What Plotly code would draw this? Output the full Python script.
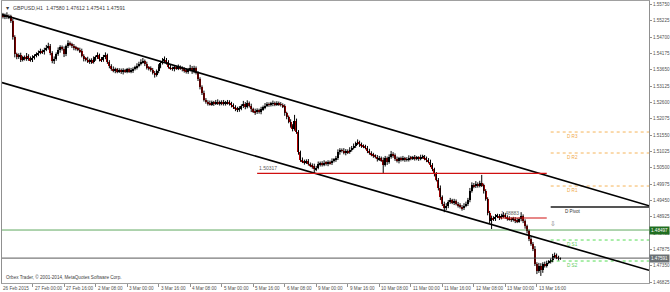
import plotly.graph_objects as go

# ---------------- data ----------------
symbol_header = "\u25bc  GBPUSD,H1  1.47580 1.47612 1.47541 1.47591"
footer_text = "Orbex Trader, \u00a9 2001-2014, MetaQuotes Software Corp."

first_open = 1.5545
closes = [
    1.5540, 1.5536, 1.5541, 1.5534, 1.5537, 1.5522, 1.5470, 1.5415, 1.5405, 1.5412,
    1.5398, 1.5405, 1.5400, 1.5410, 1.5402, 1.5396, 1.5404, 1.5410, 1.5415, 1.5420,
    1.5425, 1.5422, 1.5430, 1.5436, 1.5442, 1.5420, 1.5392, 1.5400, 1.5415, 1.5428,
    1.5438, 1.5432, 1.5415, 1.5440, 1.5450, 1.5447, 1.5440, 1.5436, 1.5433, 1.5430,
    1.5425, 1.5410, 1.5400, 1.5398, 1.5392, 1.5396, 1.5390, 1.5400, 1.5405, 1.5412,
    1.5400, 1.5396, 1.5405, 1.5412, 1.5390, 1.5378, 1.5368, 1.5362, 1.5366, 1.5360,
    1.5364, 1.5358, 1.5362, 1.5360, 1.5366, 1.5360, 1.5363, 1.5368, 1.5372, 1.5378,
    1.5385, 1.5390, 1.5393, 1.5385, 1.5372, 1.5368, 1.5365, 1.5356, 1.5348, 1.5360,
    1.5375, 1.5388, 1.5394, 1.5398, 1.5390, 1.5375, 1.5370, 1.5368, 1.5372, 1.5370,
    1.5374, 1.5370, 1.5368, 1.5362, 1.5358, 1.5365, 1.5372, 1.5360, 1.5370, 1.5355,
    1.5335, 1.5310, 1.5290, 1.5268, 1.5262, 1.5258, 1.5255, 1.5260, 1.5257, 1.5262,
    1.5258, 1.5261, 1.5256, 1.5260, 1.5258, 1.5262, 1.5256, 1.5252, 1.5245, 1.5240,
    1.5236, 1.5240, 1.5248, 1.5255, 1.5246, 1.5258, 1.5250, 1.5238, 1.5232, 1.5228,
    1.5235, 1.5230, 1.5238, 1.5244, 1.5250, 1.5255, 1.5252, 1.5256, 1.5258, 1.5254,
    1.5258, 1.5255, 1.5252, 1.5248, 1.5225, 1.5212, 1.5198, 1.5185, 1.5175, 1.5200,
    1.5165, 1.5100, 1.5075, 1.5070, 1.5068, 1.5072, 1.5062, 1.5058, 1.5055, 1.5045,
    1.5050, 1.5062, 1.5065, 1.5060, 1.5066, 1.5063, 1.5068, 1.5065, 1.5072, 1.5075,
    1.5080, 1.5100, 1.5107, 1.5105, 1.5098, 1.5104, 1.5100, 1.5108, 1.5114, 1.5120,
    1.5128, 1.5132, 1.5125, 1.5120, 1.5118, 1.5115, 1.5105, 1.5098, 1.5092, 1.5088,
    1.5085, 1.5078, 1.5080, 1.5074, 1.5060, 1.5080, 1.5068, 1.5085, 1.5095, 1.5090,
    1.5078, 1.5072, 1.5080, 1.5076, 1.5080, 1.5075, 1.5078, 1.5082, 1.5080, 1.5083,
    1.5079, 1.5082, 1.5080, 1.5084, 1.5086, 1.5080, 1.5076, 1.5070, 1.5060, 1.5045,
    1.5030, 1.5012, 1.4985, 1.4955, 1.4935, 1.4920, 1.4928, 1.4940, 1.4945, 1.4938,
    1.4942, 1.4935, 1.4930, 1.4925, 1.4920, 1.4928, 1.4935, 1.4945, 1.4975, 1.4995,
    1.4990, 1.4998, 1.4992, 1.5000, 1.4994, 1.4975, 1.4950, 1.4905, 1.4880, 1.4888,
    1.4885, 1.4893, 1.4896, 1.4890, 1.4894, 1.4898, 1.4892, 1.4888, 1.4885, 1.4882,
    1.4886, 1.4880, 1.4878, 1.4884, 1.4895, 1.4878, 1.4862, 1.4845, 1.4822, 1.4805,
    1.4790, 1.4740, 1.4718, 1.4735, 1.4720, 1.4740, 1.4735, 1.4745, 1.4748, 1.4752,
    1.4765, 1.4768, 1.4762, 1.4758, 1.47591,
]
# upper / lower wick lengths in pips
wick_up_pips = [
    6, 8, 5, 9, 6, 5, 7, 6, 5, 6, 8, 5, 6, 9, 5, 6, 8, 5, 6, 7,
    8, 5, 6, 9, 10, 6, 5, 8, 6, 9, 6, 5, 8, 6, 10, 6, 5, 8, 6, 5,
    6, 8, 5, 6, 9, 5, 6, 8, 6, 9, 5, 6, 8, 9, 5, 6, 5, 8, 6, 5,
    6, 5, 8, 6, 5, 6, 8, 5, 6, 8, 6, 9, 10, 5, 6, 5, 8, 6, 5, 6,
    8, 6, 9, 10, 5, 6, 8, 5, 6, 6, 8, 5, 6, 5, 8, 6, 9, 5, 8, 6,
    5, 6, 5, 8, 6, 5, 8, 6, 5, 6, 8, 5, 6, 8, 5, 6, 5, 6, 5, 6,
    6, 8, 6, 10, 6, 9, 5, 6, 5, 8, 6, 5, 8, 6, 8, 6, 5, 6, 8, 5,
    6, 5, 6, 5, 6, 5, 6, 8, 5, 20, 8, 6, 5, 8, 6, 5, 6, 5, 6, 8,
    6, 8, 5, 6, 8, 5, 6, 5, 8, 6, 8, 9, 6, 5, 8, 6, 5, 8, 6, 8,
    6, 9, 5, 6, 5, 6, 5, 6, 5, 6, 5, 6, 8, 6, 9, 8, 6, 8, 9, 5,
    6, 8, 5, 6, 8, 5, 6, 8, 6, 5, 8, 6, 5, 8, 6, 5, 6, 5, 6, 5,
    5, 6, 5, 8, 6, 6, 8, 6, 8, 5, 8, 6, 5, 6, 5, 8, 6, 8, 10, 8,
    6, 9, 5, 8, 27, 5, 6, 5, 6, 8, 6, 8, 6, 5, 8, 9, 6, 5, 6, 5,
    6, 5, 8, 6, 12, 5, 6, 5, 6, 5, 6, 8, 6, 9, 8, 6, 8, 6, 5, 6,
    8, 9, 6, 5, 2,
]
wick_dn_pips = [
    5, 6, 8, 5, 6, 6, 8, 10, 6, 5, 8, 6, 5, 6, 8, 5, 6, 6, 5, 6,
    5, 6, 8, 5, 6, 8, 6, 8, 6, 5, 8, 5, 9, 6, 5, 6, 5, 8, 6, 5,
    6, 5, 8, 6, 5, 8, 6, 5, 6, 5, 8, 6, 5, 6, 6, 8, 6, 5, 8, 6,
    5, 6, 8, 5, 6, 5, 6, 8, 5, 6, 5, 6, 5, 8, 6, 5, 6, 6, 8, 5,
    6, 5, 6, 5, 8, 6, 5, 6, 8, 5, 6, 5, 8, 6, 5, 6, 5, 8, 6, 5,
    6, 8, 6, 5, 6, 8, 5, 6, 8, 5, 6, 8, 5, 6, 8, 5, 6, 8, 6, 8,
    7, 6, 5, 6, 8, 5, 6, 9, 6, 8, 5, 6, 8, 5, 6, 5, 6, 5, 8, 6,
    5, 6, 5, 6, 8, 6, 5, 6, 8, 6, 6, 8, 6, 5, 8, 6, 5, 6, 8, 13,
    6, 5, 8, 6, 5, 6, 8, 5, 6, 5, 6, 5, 8, 6, 5, 8, 6, 5, 6, 5,
    6, 5, 8, 6, 5, 6, 8, 6, 5, 6, 5, 8, 6, 5, 28, 6, 9, 5, 6, 8,
    6, 5, 8, 6, 5, 6, 5, 8, 6, 5, 6, 5, 8, 6, 5, 6, 8, 6, 8, 6,
    8, 6, 8, 9, 8, 13, 6, 8, 6, 5, 8, 6, 8, 6, 8, 6, 5, 8, 6, 5,
    6, 5, 6, 5, 6, 8, 6, 8, 8, 27, 6, 6, 5, 8, 6, 5, 6, 8, 5, 6,
    5, 8, 6, 5, 6, 6, 8, 6, 8, 6, 8, 6, 10, 6, 18, 8, 6, 6, 5, 6,
    6, 5, 6, 6, 4,
]

x_tick_labels = ["26 Feb 2015", "27 Feb 00:00", "27 Feb 16:00", "2 Mar 08:00", "3 Mar 00:00",
                 "3 Mar 16:00", "4 Mar 08:00", "5 Mar 00:00", "5 Mar 16:00", "6 Mar 08:00",
                 "9 Mar 00:00", "9 Mar 16:00", "10 Mar 08:00", "11 Mar 00:00", "11 Mar 16:00",
                 "12 Mar 08:00", "13 Mar 00:00", "13 Mar 16:00"]
bars_per_label = 16

y_tick_labels = ["1.55750", "1.55225", "1.54700", "1.54175", "1.53650", "1.53125", "1.52600",
                 "1.52075", "1.51550", "1.51025", "1.50500", "1.49975", "1.49450", "1.48925",
                 "1.48400", "1.47875", "1.47350", "1.46825"]

# channel trend lines: (bar, price) anchor pairs
upper_channel = [(0, 1.55435), (328, 1.49294)]
lower_channel = [(0, 1.53248), (328, 1.47221)]

# horizontal support levels: price, from bar, to bar
support_prices = [1.50317, 1.48883]
support_from = [130, 253]
support_to = [277, 277]

# daily pivot levels
pivot_names = ["D R3", "D R2", "D R1", "D Pivot", "D S1", "D S2"]
pivot_prices = [1.51649, 1.50974, 1.49912, 1.49237, 1.48175, 1.47500]
pivot_from_bar = 279

alert_level = 1.48497
last_price = 1.47591
arrow_bar, arrow_price = 280, 1.4868

# ---------------- build ----------------
n = min(len(closes), len(wick_up_pips), len(wick_dn_pips))
closes = closes[:n]
opens = [first_open] + closes[:-1]
highs = [max(o, c) + u * 0.0001 for o, c, u in zip(opens, closes, wick_up_pips)]
lows = [min(o, c) - d * 0.0001 for o, c, d in zip(opens, closes, wick_dn_pips)]
bars = list(range(n))

X0, X1 = 0.5, 328.9
Y0, Y1 = 1.46793, 1.55863
FONT = "Liberation Sans"
FS = 4.6
TXT = "#505050"

fig = go.Figure()

# full-width horizontal lines
fig.add_trace(go.Scatter(x=[X0, X1], y=[alert_level] * 2, mode="lines",
                         line=dict(color="#5fa85f", width=1), hoverinfo="skip"))
fig.add_trace(go.Scatter(x=[X0, X1], y=[last_price] * 2, mode="lines",
                         line=dict(color="#7a7a7a", width=1.3), hoverinfo="skip"))

# pivots
piv_styles = {
    "D R3": ("#f5b45a", "dot", 1), "D R2": ("#f5b45a", "dot", 1), "D R1": ("#f5b45a", "dot", 1),
    "D Pivot": ("#555555", "solid", 2), "D S1": ("#55dd55", "dot", 1), "D S2": ("#55dd55", "dot", 1),
}
piv_text_col = {"D R3": "#f0a848", "D R2": "#f0a848", "D R1": "#f0a848",
                "D Pivot": "#333333", "D S1": "#5ccc5c", "D S2": "#5ccc5c"}
for name, p in zip(pivot_names, pivot_prices):
    col, dash, w = piv_styles[name]
    fig.add_trace(go.Scatter(x=[pivot_from_bar, X1], y=[p, p], mode="lines",
                             line=dict(color=col, dash=dash, width=w), hoverinfo="skip"))
    fig.add_annotation(x=pivot_from_bar, y=p, text=name, showarrow=False,
                       xanchor="left", yanchor="top", xshift=12 if name == "D Pivot" else 14,
                       yshift=0, font=dict(family=FONT, size=FS, color=piv_text_col[name]))

# candles, MT4 style at the smallest zoom: black wicks, coloured bodies
wx, wy = [], []
for b, h, l in zip(bars, highs, lows):
    wx += [b, b, None]
    wy += [l, h, None]
fig.add_trace(go.Scatter(x=wx, y=wy, mode="lines", line=dict(color="#000000", width=1),
                         hoverinfo="skip", connectgaps=False))
body_base = [min(o, c) for o, c in zip(opens, closes)]
body_len = [max(abs(c - o), 0.00003) for o, c in zip(opens, closes)]
body_col = ["#000000" if c >= o else "#b00000" for o, c in zip(opens, closes)]
fig.add_trace(go.Bar(x=bars, y=body_len, base=body_base, width=0.62,
                     marker=dict(color=body_col, line=dict(width=0)), hoverinfo="skip"))

# channel lines (extended across the chart)
for (b0, p0), (b1, p1) in (upper_channel, lower_channel):
    slope = (p1 - p0) / (b1 - b0)
    fig.add_trace(go.Scatter(x=[X0, X1], y=[p0 + slope * (X0 - b0), p0 + slope * (X1 - b0)],
                             mode="lines", line=dict(color="#000000", width=1.6), hoverinfo="skip"))

# support levels
for p, b0, b1 in zip(support_prices, support_from, support_to):
    fig.add_trace(go.Scatter(x=[b0, b1], y=[p, p], mode="lines",
                             line=dict(color="#d01010", width=1.2), hoverinfo="skip"))
    fig.add_annotation(x=b0, y=p, text=f"{p:.5f}", showarrow=False, xanchor="left",
                       yanchor="bottom", yshift=0, font=dict(family=FONT, size=5, color="#606060"))

fig.add_annotation(x=arrow_bar, y=arrow_price, text="\u21e9", showarrow=False,
                   font=dict(family="DejaVu Sans", size=7, color="#808080"))

# header / footer
fig.add_annotation(xref="paper", yref="paper", x=0, y=1, text=symbol_header, showarrow=False,
                   xanchor="left", yanchor="top", xshift=1, yshift=-2,
                   font=dict(family=FONT, size=5.2, color="#404040"))
fig.add_annotation(xref="paper", yref="paper", x=0, y=0, text=footer_text, showarrow=False,
                   xanchor="left", yanchor="bottom", xshift=2, yshift=1,
                   font=dict(family=FONT, size=FS, color="#404040"))

# x labels (left-aligned at their tick, MT4 style)
tick_bars = [bars_per_label * k for k in range(len(x_tick_labels))]
for b, lab in zip(tick_bars, x_tick_labels):
    fig.add_annotation(x=max(b, X0), yref="paper", y=0, text=lab, showarrow=False,
                       xanchor="left", yanchor="top", xshift=-1 if b < X0 else 0, yshift=-1,
                       font=dict(family=FONT, size=FS, color=TXT))

# price boxes on the right scale
for p, bg in ((alert_level, "#1f6e1f"), (last_price, "#6a7074")):
    fig.add_annotation(xref="paper", x=1, y=p, text=f"{p:.5f}", showarrow=False,
                       xanchor="left", yanchor="middle", bgcolor=bg, borderpad=1,
                       font=dict(family=FONT, size=FS, color="#ffffff"))

fig.update_layout(
    width=670, height=292, margin=dict(l=2, r=21, t=1, b=9),
    paper_bgcolor="white", plot_bgcolor="white", showlegend=False, bargap=0,
    font=dict(family=FONT, size=FS, color=TXT),
    xaxis=dict(range=[X0, X1], showgrid=False, zeroline=False, showline=True, mirror=True,
               linecolor="#a0a0a0", linewidth=1, tickvals=tick_bars, ticks="outside",
               ticklen=3, tickcolor="#909090", showticklabels=False, fixedrange=True),
    yaxis=dict(range=[Y0, Y1], side="right", showgrid=False, zeroline=False, showline=True,
               mirror=True, linecolor="#909090", linewidth=1,
               tickvals=[float(v) for v in y_tick_labels], ticktext=y_tick_labels,
               ticks="outside", ticklen=2, tickcolor="#909090",
               tickfont=dict(family=FONT, size=FS, color=TXT), fixedrange=True),
)

fig.write_html("out.html")
